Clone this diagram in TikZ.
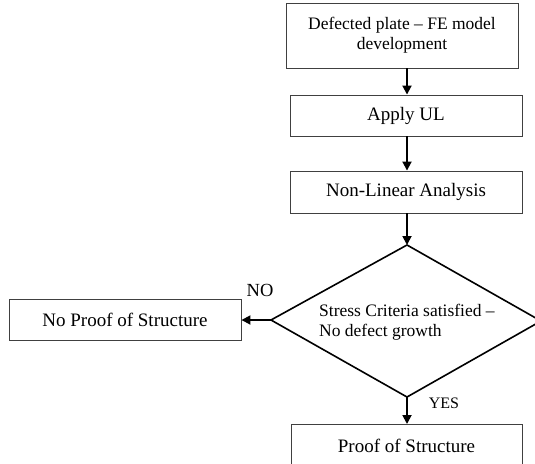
\documentclass[tikz,border=0pt]{standalone}
\usepackage{fontspec}
\setmainfont{Liberation Serif}
\usetikzlibrary{arrows.meta}
\begin{document}
\begin{tikzpicture}[x=1pt,y=-1pt,
  box/.style={draw=black!75,line width=0.9pt,inner sep=0pt,align=center},
  big/.style={font=\fontsize{19}{20}\selectfont},
  small/.style={font=\fontsize{17.5}{20}\selectfont},
  flow/.style={line width=1.8pt,-{Triangle[length=9pt,width=9pt]}},
  dia/.style={line width=1.6pt,line join=miter}]
\useasboundingbox (0,0) rectangle (535,463);
\node[box,small,minimum width=232pt,minimum height=65pt] (b1) at (402,35.5) {Defected plate -- FE model\\development};
\node[box,big,minimum width=232pt,minimum height=41pt] (b2) at (406,115.5) {Apply UL};
\node[box,big,minimum width=232pt,minimum height=42pt] (b3) at (406,192) {Non-Linear Analysis};
\coordinate (dt) at (407,245);
\coordinate (dr) at (541,321);
\coordinate (db) at (407,397);
\coordinate (dl) at (271,320);
\draw[dia] (dt) -- (dr) -- (db) -- (dl) -- cycle;
\node[small,anchor=west,align=left,inner sep=0pt] (crit) at (319,322) {Stress Criteria satisfied --\\No defect growth};
\node[box,big,minimum width=232pt,minimum height=41pt] (np) at (125,320) {No Proof of Structure};
\node[box,big,minimum width=231pt,minimum height=42pt,anchor=north] (p) at (406.5,424) {Proof of Structure};
\node[font=\fontsize{18.5}{20}\selectfont,inner sep=0pt] (no) at (260,290) {NO};
\node[font=\fontsize{16}{18}\selectfont,inner sep=0pt] (yes) at (444,403) {YES};
\draw[flow] (b1.south -| dt) -- (b2.north -| dt);
\draw[flow] (b2.south -| dt) -- (b3.north -| dt);
\draw[flow] (b3.south -| dt) -- (dt);
\draw[flow] (dl) -- (np.east);
\draw[flow] (db) -- (p.north -| db);
\end{tikzpicture}
\end{document}
